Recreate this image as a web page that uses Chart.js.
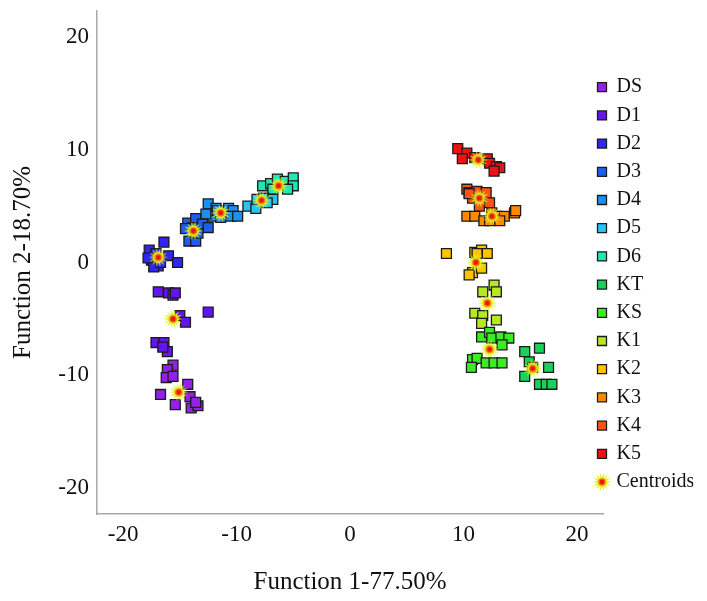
<!DOCTYPE html>
<html>
<head>
<meta charset="utf-8">
<script src="https://cdn.jsdelivr.net/npm/chart.js@4.4.1/dist/chart.umd.min.js"></script>
<style>
  html, body { margin: 0; padding: 0; background: #fff; }
</style>
</head>
<body>
<canvas id="chart" width="707" height="601"></canvas>
<script>
// groups and their colours (legend order)
const groups = ['DS', 'D1', 'D2', 'D3', 'D4', 'D5', 'D6', 'KT', 'KS', 'K1', 'K2', 'K3', 'K4', 'K5'];
const colors = ['#9322e6', '#6414f0', '#3026f0', '#1f5cf0', '#1c8ff0', '#22c8f2', '#20e8b4',
                '#18d25a', '#3cec22', '#b4ea1e', '#ffc400', '#ff8a00', '#ff5412', '#f01212'];

// discriminant scores [function 1, function 2]
const DS = [[-15.6, -9.1], [-16.1, -9.5], [-16.2, -10.2], [-15.6, -10.1], [-14.3, -10.8], [-16.7, -11.7],
            [-14.1, -11.9], [-15.4, -12.6], [-14.0, -12.9], [-13.4, -12.7], [-13.6, -12.4]];
const D1 = [[-16.9, -2.6], [-16.0, -2.7], [-15.6, -2.9], [-15.4, -2.7], [-15.0, -4.7], [-14.5, -5.3],
            [-12.5, -4.4], [-17.1, -7.1], [-16.4, -7.1], [-16.1, -7.9], [-16.5, -7.5]];
const D2 = [[-17.7, 1.1], [-17.1, 0.8], [-16.4, 1.8], [-17.5, 0.2], [-16.9, -0.3], [-17.3, -0.4],
            [-16.0, 0.6], [-15.2, 0.0], [-17.8, 0.4], [-16.7, 0.0]];
const D3 = [[-14.3, 3.5], [-13.6, 3.9], [-13.9, 3.1], [-14.5, 3.0], [-13.0, 3.4], [-12.5, 3.1],
            [-14.2, 1.9], [-13.6, 1.9], [-13.4, 2.6]];
const D4 = [[-12.5, 5.2], [-11.8, 4.8], [-12.1, 4.1], [-11.4, 4.0], [-10.7, 4.8], [-10.3, 4.6],
            [-10.5, 4.1], [-9.9, 4.1], [-12.7, 4.3], [-11.7, 4.6]];
const D5 = [[-9.0, 5.0], [-8.3, 4.8], [-8.2, 5.6], [-7.6, 5.7], [-6.8, 5.6], [-7.3, 5.3]];
const D6 = [[-7.7, 6.8], [-7.0, 7.0], [-6.4, 7.4], [-5.7, 7.2], [-5.0, 7.5], [-5.0, 6.8], [-5.5, 6.5], [-6.8, 6.5]];
const KT = [[15.4, -7.9], [16.7, -7.6], [15.8, -8.8], [16.1, -9.3], [17.5, -9.3], [15.4, -10.1],
            [16.7, -10.8], [17.3, -10.8], [17.8, -10.8]];
const KS = [[11.6, -6.6], [12.3, -6.2], [12.5, -6.7], [13.3, -6.6], [14.0, -6.7], [13.4, -7.3],
            [10.8, -8.6], [11.2, -8.5], [10.7, -9.3], [12.0, -8.9], [12.7, -8.9], [13.4, -8.9]];
const K1 = [[11.7, -2.6], [12.7, -2.0], [12.9, -2.6], [11.0, -4.5], [11.7, -4.7], [11.6, -5.4], [12.9, -5.1]];
const K2 = [[8.5, 0.8], [11.0, 0.9], [11.6, 1.1], [12.1, 0.8], [11.2, 0.8], [10.8, -0.9], [11.6, -0.5], [10.5, -1.1]];
const K3 = [[10.3, 4.1], [11.0, 4.1], [11.8, 3.7], [12.5, 4.4], [12.9, 4.1], [13.6, 4.1], [14.5, 4.4],
            [14.6, 4.6], [13.2, 3.7], [12.3, 3.7]];
const K4 = [[10.3, 6.5], [10.5, 6.2], [10.8, 5.7], [11.2, 6.3], [12.0, 6.2], [11.4, 5.0], [12.3, 5.3], [10.5, 6.1]];
const K5 = [[9.5, 10.1], [10.3, 9.7], [9.9, 9.2], [11.0, 9.3], [12.1, 9.2], [12.3, 8.8], [12.9, 8.5],
            [13.2, 8.4], [12.7, 8.1]];
const series = [DS, D1, D2, D3, D4, D5, D6, KT, KS, K1, K2, K3, K4, K5];

// group centroids, same order as groups
const centroids = [[-15.1, -11.5], [-15.6, -5.0], [-16.9, 0.45], [-13.8, 2.8], [-11.4, 4.4], [-7.8, 5.5],
                   [-6.3, 6.8], [16.1, -9.4], [12.3, -7.7], [12.1, -3.6], [11.1, 0.0], [12.5, 4.1],
                   [11.4, 5.7], [11.3, 9.1]];

const xTicks = [-20, -10, 0, 10, 20];
const yTicks = [-20, -10, 0, 10, 20];

// centroid marker: yellow starburst with red core
function starMarker(size) {
  const c = document.createElement('canvas');
  c.width = size; c.height = size;
  const g = c.getContext('2d');
  const m = size / 2, n = 14;
  g.beginPath();
  for (let i = 0; i < n * 2; i++) {
    const r = i % 2 ? m * 0.48 : m * 0.96;
    const a = Math.PI * i / n;
    g.lineTo(m + r * Math.cos(a), m + r * Math.sin(a));
  }
  g.closePath();
  g.fillStyle = '#e2f424';
  g.fill();
  g.beginPath(); g.arc(m, m, m * 0.38, 0, Math.PI * 2); g.fillStyle = '#ff7010'; g.fill();
  g.beginPath(); g.arc(m, m, m * 0.24, 0, Math.PI * 2); g.fillStyle = '#e41a0a'; g.fill();
  return c;
}

const toXY = arr => arr.map(p => ({ x: p[0], y: p[1] }));

const datasets = [{
  label: 'Centroids',
  data: toXY(centroids),
  pointStyle: starMarker(20),
  pointRadius: 10,
  pointHoverRadius: 10
}].concat(groups.map((g, i) => ({
  label: g,
  data: toXY(series[i]),
  pointStyle: 'rect',
  pointRadius: 7,
  pointHoverRadius: 7,
  backgroundColor: colors[i],
  borderColor: '#1b1b1b',
  borderWidth: 1.3
})));

const serif = "'Liberation Serif', 'Times New Roman', serif";

// put the legend where the original one sits
const legendPlace = {
  id: 'legendPlace',
  afterLayout(chart) {
    const lg = chart.legend;
    lg.left = 589.3;
    lg.right = lg.left + lg.width;
    lg.top = 69;
    lg.bottom = 601;
  }
};

new Chart(document.getElementById('chart').getContext('2d'), {
  type: 'scatter',
  data: { datasets },
  plugins: [legendPlace],
  options: {
    responsive: false,
    animation: false,
    layout: { padding: { top: 8, left: 0, right: 0, bottom: 0 } },
    plugins: {
      tooltip: { enabled: false },
      legend: {
        position: 'right',
        align: 'start',
        maxWidth: 104,
        labels: {
          usePointStyle: true,
          boxWidth: 9,
          boxHeight: 9,
          padding: 8.2,
          color: '#111',
          font: { family: serif, size: 20 },
          sort: (a, b) => ((a.datasetIndex === 0) - (b.datasetIndex === 0)) || (a.datasetIndex - b.datasetIndex)
        }
      }
    },
    scales: {
      x: {
        type: 'linear',
        min: -22.3,
        max: 22.3,
        grid: { display: false, drawTicks: false },
        border: { color: '#a8a8a8', width: 1.5 },
        ticks: { color: '#111', font: { family: serif, size: 23 }, padding: 7 },
        afterBuildTicks: s => { s.ticks = xTicks.map(v => ({ value: v })); },
        afterFit: s => { s.height = 87; s.paddingLeft = 0; s.paddingRight = 0; },
        title: {
          display: true,
          text: 'Function 1-77.50%',
          color: '#111',
          font: { family: serif, size: 25 },
          padding: { top: 0, bottom: 4 }
        }
      },
      y: {
        type: 'linear',
        min: -22.3,
        max: 22.3,
        grid: { display: false, drawTicks: false },
        border: { color: '#a8a8a8', width: 1.5 },
        ticks: { color: '#111', font: { family: serif, size: 23 }, padding: 8 },
        afterBuildTicks: s => { s.ticks = yTicks.map(v => ({ value: v })); },
        afterFit: s => { s.width = 97; s.paddingTop = 0; s.paddingBottom = 0; },
        title: {
          display: true,
          text: 'Function 2-18.70%',
          color: '#111',
          font: { family: serif, size: 25 },
          padding: { top: 8, bottom: 0 }
        }
      }
    }
  }
});
</script>
</body>
</html>
